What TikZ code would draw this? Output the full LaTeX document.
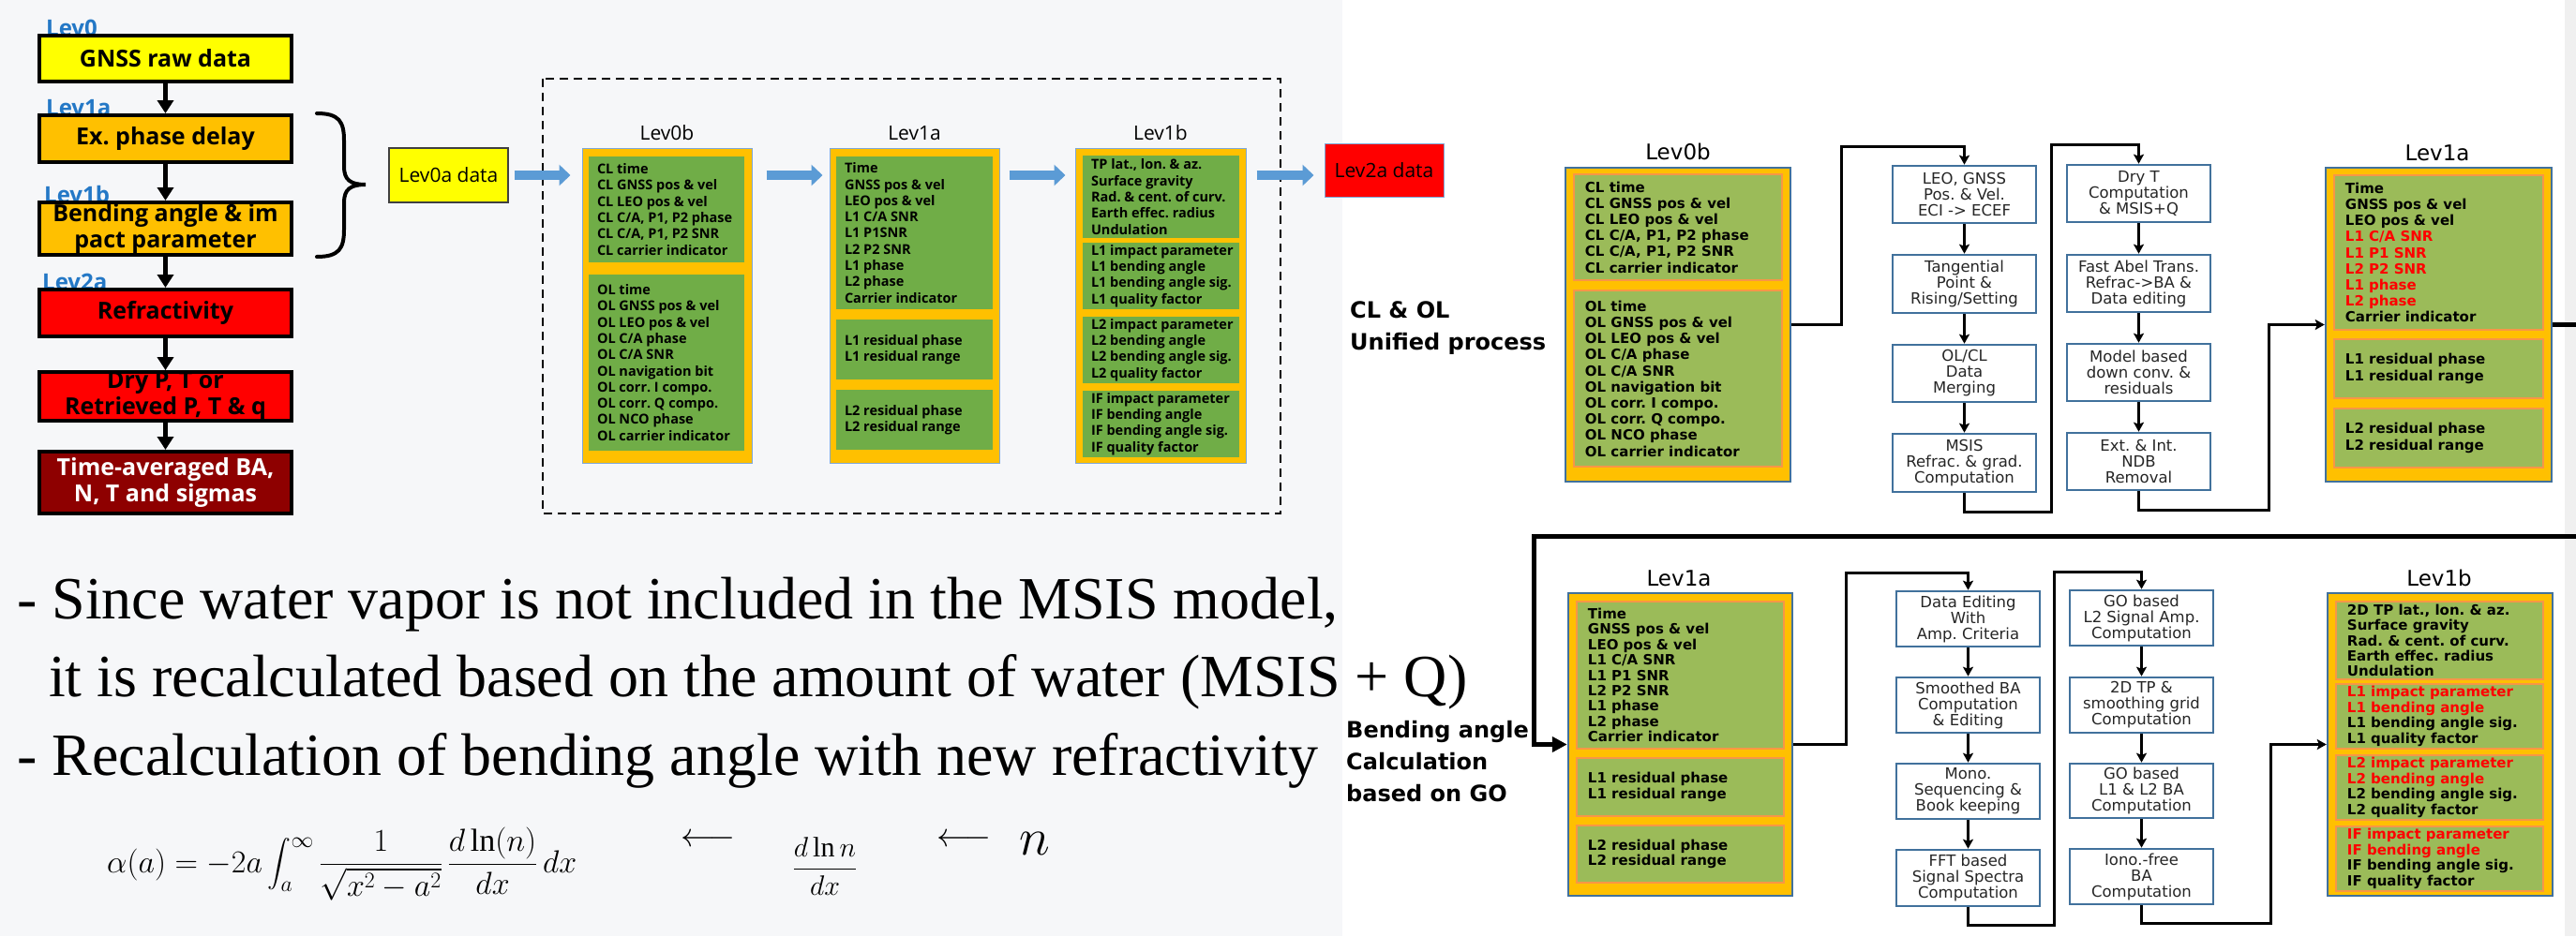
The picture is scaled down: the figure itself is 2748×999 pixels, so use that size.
\RequirePackage{fix-cm}
\documentclass[tikz,border=0pt]{standalone}
\usepackage{exscale}
\usepackage{fontspec}
\setmainfont{Liberation Serif}
\newfontfamily\osans{Open Sans}
\newfontfamily\dvs{DejaVu Sans}
\usetikzlibrary{arrows.meta,calc}
\newcommand\fsz[2]{\fontsize{#1}{#2}\selectfont}

\definecolor{bgl}{HTML}{F6F7F9}
\definecolor{levblue}{HTML}{2478C6}
\definecolor{cyel}{HTML}{FFFF00}
\definecolor{corg}{HTML}{FFC000}
\definecolor{cred}{HTML}{FF0000}
\definecolor{cdred}{HTML}{8E0000}
\definecolor{mgreen}{HTML}{70AD47}
\definecolor{rgreen}{HTML}{9BBB59}
\definecolor{rorange}{HTML}{F79646}
\definecolor{frame}{HTML}{41719C}
\definecolor{barrowc}{HTML}{5B9BD5}
\definecolor{ltframe}{HTML}{7FA7D6}
\definecolor{ptext}{HTML}{262626}

\begin{document}
\frenchspacing
\begin{tikzpicture}[x=1pt,y=-1pt,
  lbox/.style={draw=black, line width=4pt, minimum width=269pt, inner sep=0pt,
    align=center, font=\osans\bfseries\fsz{25}{28}},
  levlbl/.style={text=levblue, font=\osans\bfseries\fsz{24}{24}, anchor=base west, inner sep=0pt},
  larrow/.style={line width=5pt, -{Triangle[length=14pt,width=17pt]}},
  dframe/.style={draw=black, line width=2.5pt, dash pattern=on 9pt off 6pt},
  outerm/.style={fill=corg, draw=ltframe, line width=1pt, inner sep=0pt},
  ginm/.style={fill=mgreen, inner sep=0pt},
  mlist/.style={anchor=west, align=left, inner sep=0pt, font=\osans\bfseries\fsz{14.5}{17.3}},
  mttl/.style={anchor=base, inner sep=0pt, font=\osans\fsz{21}{21}},
  barrow/.style={draw=barrowc, line width=10pt, -{Triangle[length=12pt,width=22pt]}},
  outerr/.style={fill=corg, draw=frame, line width=2.5pt, inner sep=0pt},
  ginr/.style={fill=rgreen, draw=rorange, line width=2.5pt, inner sep=0pt},
  rlist/.style={anchor=west, align=left, inner sep=0pt, font=\dvs\bfseries\fsz{15}{17.2}},
  rlistb/.style={anchor=west, align=left, inner sep=0pt, font=\dvs\bfseries\fsz{15}{16.4}},
  rttl/.style={anchor=base, inner sep=0pt, font=\dvs\fsz{23}{23}},
  pbox/.style={draw=frame, line width=2.6pt, fill=white, minimum width=153pt, inner sep=0pt,
    align=center, text=ptext, font=\dvs\fsz{16.5}{17}},
  conn/.style={line width=3pt, -{Stealth[length=10pt,width=11pt,inset=2pt]}},
  tconn/.style={line width=5pt, -{Triangle[length=16pt,width=16pt]}},
  biglbl/.style={anchor=north west, align=left, inner sep=0pt, font=\dvs\bfseries\fsz{24}{34}},
  ttext/.style={anchor=base west, inner sep=0pt, font=\fsz{64}{64}}
]
% page background
\fill[bgl] (0,0) rectangle (1432,999);
\fill[white] (1432,0) rectangle (2736,999);
\fill[black!6] (2736,0) rectangle (2748,999);
\useasboundingbox (0,0) rectangle (2748,999);

% ---------- level column ----------
\node[levlbl] (l0) at (49,38) {Lev0};
\node[levlbl] (l1a) at (49,123) {Lev1a};
\node[levlbl] (l1b) at (47,216) {Lev1b};
\node[levlbl] (l2a) at (45,309) {Lev2a};
\node[lbox, fill=cyel, minimum height=49pt] (gnss) at (176.5,62.5) {GNSS raw data};
\node[lbox, fill=corg, minimum height=50pt] (exd) at (176.5,148) {Ex.\ phase delay};
\node[lbox, fill=corg, minimum height=56pt] (bend) at (176.5,244) {Bending angle \& im\\pact parameter};
\node[lbox, fill=cred, minimum height=50pt] (refr) at (176.5,334) {Refractivity};
\node[lbox, fill=cred, minimum height=50pt] (dryp) at (176.5,423) {Dry P, T or\\Retrieved P, T \& q};
\node[lbox, fill=cdred, text=white, minimum height=66pt] (tavg) at (176.5,515) {Time-averaged BA,\\N, T and sigmas};
\draw[larrow] (gnss) -- (exd);
\draw[larrow] (exd) -- (bend);
\draw[larrow] (bend) -- (refr);
\draw[larrow] (refr) -- (dryp);
\draw[larrow] (dryp) -- (tavg);
% brace grouping Lev1a and Lev1b
\draw[line width=4pt, line cap=round] (338,121) .. controls (362,121) and (367,130) .. (367,150)
  -- (367,178) .. controls (367,192) and (374,197) .. (390,197)
  .. controls (374,197) and (367,202) .. (367,216) -- (367,245)
  .. controls (367,265) and (362,274) .. (338,274);

% ---------- product chain ----------
\draw[dframe] (579,84) rectangle (1366,548);
\node[draw=black!75, line width=1.5pt, fill=cyel, minimum width=127pt, minimum height=58pt,
  inner sep=0pt, font=\osans\fsz{21}{21}] (lev0a) at (478.5,187) {Lev0a data};
\node[fill=cred, draw=ltframe, line width=1pt, minimum width=127pt, minimum height=57pt,
  inner sep=0pt, font=\osans\fsz{21}{21}] (lev2a) at (1476.5,181.5) {Lev2a data};

% Lev0b
\node[outerm, minimum width=181pt, minimum height=336pt] (m0b) at (711.5,326) {};
\node[mttl] (m0bt) at (711.5,149) {Lev0b};
\node[ginm, minimum width=166pt, minimum height=113pt] (m0bcl) at (711,223.5) {};
\node[mlist] (m0bclt) at ($(m0bcl.west)+(9,0)$) {CL time\\CL GNSS pos \& vel\\CL LEO pos \& vel\\CL C/A, P1, P2 phase\\CL C/A, P1, P2 SNR\\CL carrier indicator};
\node[ginm, minimum width=166pt, minimum height=188pt] (m0bol) at (711,387) {};
\node[mlist] (m0bolt) at ($(m0bol.west)+(9,0)$) {OL time\\OL GNSS pos \& vel\\OL LEO pos \& vel\\OL C/A phase\\OL C/A SNR\\OL navigation bit\\OL corr. I compo.\\OL corr. Q compo.\\OL NCO phase\\OL carrier indicator};

% Lev1a
\node[outerm, minimum width=181pt, minimum height=336pt] (m1a) at (975.5,326) {};
\node[mttl] (m1at) at (975.5,149) {Lev1a};
\node[ginm, minimum width=167pt, minimum height=163pt] (m1ag1) at (975.5,248.5) {};
\node[mlist] (m1ag1t) at ($(m1ag1.west)+(9,0)$) {Time\\GNSS pos \& vel\\LEO pos \& vel\\L1 C/A SNR\\L1 P1SNR\\L2 P2 SNR\\L1 phase\\L2 phase\\Carrier indicator};
\node[ginm, minimum width=167pt, minimum height=64pt] (m1ag2) at (975.5,373) {};
\node[mlist] (m1ag2t) at ($(m1ag2.west)+(9,0)$) {L1 residual phase\\L1 residual range};
\node[ginm, minimum width=167pt, minimum height=64pt] (m1ag3) at (975.5,448) {};
\node[mlist] (m1ag3t) at ($(m1ag3.west)+(9,0)$) {L2 residual phase\\L2 residual range};

% Lev1b
\node[outerm, minimum width=182pt, minimum height=336pt] (m1b) at (1238,326) {};
\node[mttl] (m1bt) at (1238,149) {Lev1b};
\node[ginm, minimum width=167pt, minimum height=88pt] (m1bg1) at (1238.5,210) {};
\node[mlist] (m1bg1t) at ($(m1bg1.west)+(9,0)$) {TP lat., lon. \& az.\\Surface gravity\\Rad. \& cent. of curv.\\Earth effec. radius\\Undulation};
\node[ginm, minimum width=167pt, minimum height=71pt] (m1bg2) at (1238.5,294.5) {};
\node[mlist] (m1bg2t) at ($(m1bg2.west)+(9,0)$) {L1 impact parameter\\L1 bending angle\\L1 bending angle sig.\\L1 quality factor};
\node[ginm, minimum width=167pt, minimum height=71pt] (m1bg3) at (1238.5,373.5) {};
\node[mlist] (m1bg3t) at ($(m1bg3.west)+(9,0)$) {L2 impact parameter\\L2 bending angle\\L2 bending angle sig.\\L2 quality factor};
\node[ginm, minimum width=167pt, minimum height=71pt] (m1bg4) at (1238.5,452.5) {};
\node[mlist] (m1bg4t) at ($(m1bg4.west)+(9,0)$) {IF impact parameter\\IF bending angle\\IF bending angle sig.\\IF quality factor};

\coordinate (ay) at (0,187);
\draw[barrow, shorten <=6pt, shorten >=12pt] (lev0a.east) -- (m0b.west |- ay);
\draw[barrow, shorten <=15pt, shorten >=7pt] (m0b.east |- ay) -- (m1a.west |- ay);
\draw[barrow, shorten <=10pt, shorten >=10pt] (m1a.east |- ay) -- (m1b.west |- ay);
\draw[barrow, shorten <=11pt, shorten >=11pt] (m1b.east |- ay) -- (lev2a.west |- ay);

% ---------- side labels ----------
\node[biglbl] (clol) at (1440,321) {CL \& OL\\Unified process};
\node[biglbl] (bago) at (1436,769) {Bending angle\\Calculation\\based on GO};

% ---------- unified process, first row ----------
\node[outerr, minimum width=240pt, minimum height=335pt] (r0b) at (1790,346.5) {};
\node[rttl] (r0bt) at (1790,170) {Lev0b};
\node[ginr, minimum width=222pt, minimum height=113pt] (r0bcl) at (1790,242.5) {};
\node[rlist] (r0bclt) at ($(r0bcl.west)+(13,0)$) {CL time\\CL GNSS pos \& vel\\CL LEO pos \& vel\\CL C/A, P1, P2 phase\\CL C/A, P1, P2 SNR\\CL carrier indicator};
\node[ginr, minimum width=222pt, minimum height=188pt] (r0bol) at (1790,404) {};
\node[rlist] (r0bolt) at ($(r0bol.west)+(13,0)$) {OL time\\OL GNSS pos \& vel\\OL LEO pos \& vel\\OL C/A phase\\OL C/A SNR\\OL navigation bit\\OL corr. I compo.\\OL corr. Q compo.\\OL NCO phase\\OL carrier indicator};

\node[pbox, minimum height=61pt] (leo) at (2095.5,207.5) {LEO, GNSS\\Pos. \& Vel.\\ECI -> ECEF};
\node[pbox, minimum height=62pt] (tan) at (2095.5,303) {Tangential\\Point \&\\Rising/Setting};
\node[pbox, minimum height=61pt] (olcl) at (2095.5,398.5) {OL/CL\\Data\\Merging};
\node[pbox, minimum height=62pt] (msis) at (2095.5,494) {MSIS\\Refrac. \& grad.\\Computation};
\node[pbox, minimum height=61pt] (dryt) at (2281.5,206.5) {Dry T\\Computation\\\& MSIS+Q};
\node[pbox, minimum height=61pt] (fast) at (2281.5,302.5) {Fast Abel Trans.\\Refrac->BA \&\\Data editing};
\node[pbox, minimum height=61pt] (model) at (2281.5,397.5) {Model based\\down conv. \&\\residuals};
\node[pbox, minimum height=61pt] (ext) at (2281.5,492.5) {Ext. \& Int.\\NDB\\Removal};

\node[outerr, minimum width=241pt, minimum height=335pt] (r1a) at (2601.5,346.5) {};
\node[rttl] (r1at) at (2600,171) {Lev1a};
\node[ginr, minimum width=223pt, minimum height=165pt] (r1ag1) at (2601.5,269.5) {};
\node[rlist] (r1ag1t) at ($(r1ag1.west)+(13,0)$) {Time\\GNSS pos \& vel\\LEO pos \& vel\\\textcolor{cred}{L1 C/A SNR}\\\textcolor{cred}{L1 P1 SNR}\\\textcolor{cred}{L2 P2 SNR}\\\textcolor{cred}{L1 phase}\\\textcolor{cred}{L2 phase}\\Carrier indicator};
\node[ginr, minimum width=223pt, minimum height=63pt] (r1ag2) at (2601.5,393.5) {};
\node[rlist] (r1ag2t) at ($(r1ag2.west)+(13,0)$) {L1 residual phase\\L1 residual range};
\node[ginr, minimum width=223pt, minimum height=63pt] (r1ag3) at (2601.5,467.5) {};
\node[rlist] (r1ag3t) at ($(r1ag3.west)+(13,0)$) {L2 residual phase\\L2 residual range};

\coordinate (c1) at (1964,156);
\coordinate (c2) at (2188,546);
\coordinate (c3) at (2188,154);
\coordinate (c4) at (2420,544);
\draw[conn] (r0b.east) -| (c1) -| (leo.north);
\draw[conn] (leo) -- (tan);
\draw[conn] (tan) -- (olcl);
\draw[conn] (olcl) -- (msis);
\draw[conn] (msis.south) |- (c2) -- (c3) -| (dryt.north);
\draw[conn] (dryt) -- (fast);
\draw[conn] (fast) -- (model);
\draw[conn] (model) -- (ext);
\draw[conn] (ext.south) |- (c4) |- (r1a.west);

% ---------- bending angle process, second row ----------
\node[outerr, minimum width=239pt, minimum height=323pt] (r2a) at (1792.5,794.5) {};
\node[rttl] (r2at) at (1791,625) {Lev1a};
\node[ginr, minimum width=221pt, minimum height=157pt] (r2ag1) at (1792.5,720.5) {};
\node[rlistb] (r2ag1t) at ($(r2ag1.west)+(13,0)$) {Time\\GNSS pos \& vel\\LEO pos \& vel\\L1 C/A SNR\\L1 P1 SNR\\L2 P2 SNR\\L1 phase\\L2 phase\\Carrier indicator};
\node[ginr, minimum width=221pt, minimum height=62pt] (r2ag2) at (1792.5,840) {};
\node[rlistb] (r2ag2t) at ($(r2ag2.west)+(13,0)$) {L1 residual phase\\L1 residual range};
\node[ginr, minimum width=221pt, minimum height=61pt] (r2ag3) at (1792.5,911.5) {};
\node[rlistb] (r2ag3t) at ($(r2ag3.west)+(13,0)$) {L2 residual phase\\L2 residual range};

\node[pbox, minimum height=59pt] (de) at (2099.5,660.5) {Data Editing\\With\\Amp. Criteria};
\node[pbox, minimum height=59pt] (smo) at (2099.5,752.5) {Smoothed BA\\Computation\\\& Editing};
\node[pbox, minimum height=59pt] (mono) at (2099.5,844.5) {Mono.\\Sequencing \&\\Book keeping};
\node[pbox, minimum height=60pt] (fft) at (2099.5,937) {FFT based\\Signal Spectra\\Computation};
\node[pbox, minimum height=59pt] (go) at (2284.5,659.5) {GO based\\L2 Signal Amp.\\Computation};
\node[pbox, minimum height=59pt] (tp2) at (2284.5,752.5) {2D TP \&\\smoothing grid\\Computation};
\node[pbox, minimum height=58pt] (go2) at (2284.5,844) {GO based\\L1 \& L2 BA\\Computation};
\node[pbox, minimum height=59pt] (iono) at (2284.5,935.5) {Iono.-free\\BA\\Computation};

\node[outerr, minimum width=240pt, minimum height=323pt] (r2b) at (2603,794.5) {};
\node[rttl] (r2bt) at (2602,625) {Lev1b};
\node[ginr, minimum width=221pt, minimum height=83pt] (r2bg1) at (2602.5,683.5) {};
\node[rlistb] (r2bg1t) at ($(r2bg1.west)+(13,0)$) {2D TP lat., lon. \& az.\\Surface gravity\\Rad. \& cent. of curv.\\Earth effec. radius\\Undulation};
\node[ginr, minimum width=221pt, minimum height=69pt] (r2bg2) at (2602.5,764.5) {};
\node[rlistb] (r2bg2t) at ($(r2bg2.west)+(13,0)$) {\textcolor{cred}{L1 impact parameter}\\\textcolor{cred}{L1 bending angle}\\L1 bending angle sig.\\L1 quality factor};
\node[ginr, minimum width=221pt, minimum height=69pt] (r2bg3) at (2602.5,840.5) {};
\node[rlistb] (r2bg3t) at ($(r2bg3.west)+(13,0)$) {\textcolor{cred}{L2 impact parameter}\\\textcolor{cred}{L2 bending angle}\\L2 bending angle sig.\\L2 quality factor};
\node[ginr, minimum width=221pt, minimum height=69pt] (r2bg4) at (2602.5,916.5) {};
\node[rlistb] (r2bg4t) at ($(r2bg4.west)+(13,0)$) {\textcolor{cred}{IF impact parameter}\\\textcolor{cred}{IF bending angle}\\IF bending angle sig.\\IF quality factor};

% link from the first row down to the second row
\coordinate (e1) at (2770,572);
\coordinate (e2) at (1636,572);
\draw[tconn] (r1a.east) -| (e1) -- (e2) |- (r2a.west);

\coordinate (d1) at (1969,611);
\coordinate (d2) at (2191,987);
\coordinate (d3) at (2191,610);
\coordinate (d4) at (2422,985);
\draw[conn] (r2a.east) -| (d1) -| (de.north);
\draw[conn] (de) -- (smo);
\draw[conn] (smo) -- (mono);
\draw[conn] (mono) -- (fft);
\draw[conn] (fft.south) |- (d2) -- (d3) -| (go.north);
\draw[conn] (go) -- (tp2);
\draw[conn] (tp2) -- (go2);
\draw[conn] (go2) -- (iono);
\draw[conn] (iono.south) |- (d4) |- (r2b.west);

% ---------- notes and formula ----------
\node[ttext] (s1) at (18,660) {- Since water vapor is not included in the MSIS model,};
\node[ttext] (s2) at (52,743) {it is recalculated based on the amount of water (MSIS + Q)};
\node[ttext] (s3) at (18,827) {- Recalculation of bending angle with new refractivity};

\node[anchor=west, inner sep=0pt, font=\fsz{34}{34}] (fml) at (114,922)
  {$\displaystyle \alpha(a) = -2a\int_a^{\infty}\frac{1}{\sqrt{x^2-a^2}}\,\frac{d\ln(n)}{dx}\,dx$};
\node[inner sep=0pt, font=\fsz{36}{36}] (arr1) at (755,897) {$\longleftarrow$};
\node[inner sep=0pt, font=\fsz{30}{30}] (drv) at (880,925) {$\displaystyle\frac{d\ln n}{dx}$};
\node[inner sep=0pt, font=\fsz{36}{36}] (arr2) at (1028,897) {$\longleftarrow$};
\node[inner sep=0pt, font=\fsz{56}{56}] (nn) at (1104,900) {$n$};
\end{tikzpicture}
\end{document}
